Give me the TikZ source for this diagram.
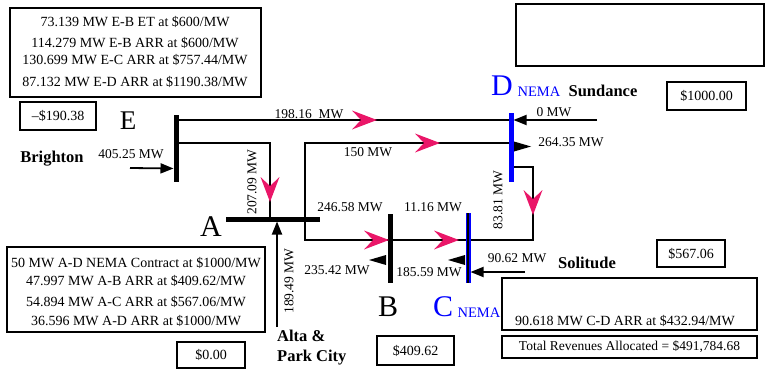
\documentclass[tikz,border=0pt]{standalone}
\usepackage{fontspec}
\setmainfont{Liberation Serif}
\usetikzlibrary{arrows.meta}
\definecolor{flowpink}{RGB}{234,22,104}
\definecolor{nemablue}{RGB}{0,0,255}

\begin{document}
\begin{tikzpicture}[
    x=1pt, y=-1pt,
    every node/.style={inner sep=0pt, align=center},
    mw/.style={font=\fontsize{13.5}{15}\selectfont},
    boxtext/.style={font=\fontsize{14}{16}\selectfont},
    place/.style={font=\fontsize{16.5}{18}\selectfont\bfseries},
    busname/.style={font=\fontsize{30}{30}\selectfont},
    nema/.style={font=\fontsize{14.5}{14}\selectfont, text=nemablue},
    infobox/.style={draw, line width=1.8pt},
    line/.style={line width=1.8pt},
    bus/.style={line width=5pt},
    inflow/.style={line, -{Triangle[length=13pt,width=10pt]}},
    flowhead/.pic={\fill[flowpink] (0,0) -- (-25,-9.5) -- (-16,0) -- (-25,9.5) -- cycle;},
    loadhead/.pic={\fill (0,0) -- (-17,-5) -- (-17,5) -- cycle;}
]

\useasboundingbox (0,0) rectangle (765,369);

% boxes
\node[infobox, minimum width=251, minimum height=89] (ebox) at (135.5,52.5) {};
\node[boxtext] (e1) at (135,22) {73.139 MW E-B ET at \$600/MW};
\node[boxtext] (e2) at (135,43) {114.279 MW E-B ARR at \$600/MW};
\node[boxtext] (e3) at (135,60) {130.699 MW E-C ARR at \$757.44/MW};
\node[boxtext] (e4) at (135,82) {87.132 MW E-D ARR at \$1190.38/MW};

\node[infobox, minimum width=258, minimum height=85] (abox) at (136,289.5) {};
\node[boxtext] (a1) at (136,263) {50 MW A-D NEMA Contract at \$1000/MW};
\node[boxtext] (a2) at (136,281) {47.997 MW A-B ARR at \$409.62/MW};
\node[boxtext] (a3) at (136,302) {54.894 MW A-C ARR at \$567.06/MW};
\node[boxtext] (a4) at (136,321) {36.596 MW A-D ARR at \$1000/MW};

\node[infobox, minimum width=248, minimum height=62] (dbox) at (640,35) {};
\node[infobox, minimum width=255, minimum height=52] (cbox) at (629.5,304) {};
\node[boxtext] (c1) at (625,321) {90.618 MW C-D ARR at \$432.94/MW};
\node[infobox, minimum width=255, minimum height=22, font=\fontsize{13.5}{15}\selectfont] (total) at (629.5,347) {Total Revenues Allocated = \$491,784.68};

\node[infobox, boxtext, minimum width=76, minimum height=28] (priceE) at (58,116) {--\$190.38};
\node[infobox, boxtext, minimum width=68, minimum height=26] (priceA) at (211,355) {\$0.00};
\node[infobox, boxtext, minimum width=77, minimum height=29] (priceB) at (415.5,350.5) {\$409.62};
\node[infobox, boxtext, minimum width=68, minimum height=27] (priceC) at (691,253.5) {\$567.06};
\node[infobox, boxtext, minimum width=79, minimum height=28] (priceD) at (706.5,96) {\$1000.00};

% buses
\coordinate (Etop) at (176,115);
\coordinate (Ebot) at (176,182);
\coordinate (Aw) at (226,219);
\coordinate (Ae) at (320,219);
\coordinate (Btop) at (390,214);
\coordinate (Bbot) at (390,283);
\coordinate (Ctop) at (468,213);
\coordinate (Cbot) at (468,283);
\coordinate (Dtop) at (511,113);
\coordinate (Dbot) at (511,182);

% line points
\coordinate (E1) at (176,120);
\coordinate (D1) at (511,120);
\coordinate (E2) at (176,143);
\coordinate (A1) at (270,219);
\coordinate (D2) at (511,143);
\coordinate (AD) at (305,143);
\coordinate (AB) at (305,240);
\coordinate (CD) at (533,240);
\coordinate (DC) at (533,167);
\coordinate (D3) at (511,167);

\draw[line] (E1) -- (D1);
\draw[line] (E2) -| (A1);
\draw[line] (D2) -- (AD) -- (AB) -- (CD) -- (DC) -- (D3);

\draw[bus] (Etop) -- (Ebot);
\draw[bus] (Aw) -- (Ae);
\draw[bus] (Btop) -- (Bbot);
\draw[bus, nemablue] (Ctop) -- (Cbot);
\draw[line width=1.2pt] (Ctop) -- (Cbot);
\draw[bus, nemablue] (Dtop) -- (Dbot);

% injections and loads
\coordinate (brighton) at (130,168);
\coordinate (Ein) at (173.5,168.5);
\coordinate (alta) at (277,327);
\coordinate (Ain) at (277,221.5);
\coordinate (sundance) at (597,120);
\coordinate (Din) at (513.5,120);
\coordinate (solitude) at (525,272);
\coordinate (Cin) at (470.5,272);

\draw[inflow] (brighton) -- (Ein);
\draw[inflow] (alta) -- (Ain);
\draw[inflow] (sundance) -- (Din);
\draw[inflow] (solitude) -- (Cin);

\pic at (531,146.5) {loadhead};
\pic[rotate=180] at (369,260) {loadhead};
\pic[rotate=180] at (448,260) {loadhead};

% flow arrows
\pic at (377,120) {flowhead};
\pic[rotate=-90] at (270,202) {flowhead};
\pic at (440,143) {flowhead};
\pic at (389,240) {flowhead};
\pic at (459,240) {flowhead};
\pic[rotate=-90] at (533,215) {flowhead};

% bus names
\node[busname, font=\fontsize{27}{27}\selectfont] (nE) at (128,121) {E};
\node[busname] (nA) at (211,227) {A};
\node[busname] (nB) at (388,307) {B};
\node[busname, text=nemablue] (nC) at (443,307) {C};
\node[nema] (nemaC) at (479,313) {NEMA};
\node[busname, text=nemablue] (nD) at (502,86) {D};
\node[nema] (nemaD) at (539,92) {NEMA};

\node[place] (pBrighton) at (52,159) {Brighton};
\node[place] (pSundance) at (603,91) {Sundance};
\node[place] (pSolitude) at (587,263) {Solitude};
\node[place, anchor=west] (pAlta) at (277,336) {Alta \&};
\node[place, anchor=west] (pPark) at (277,358) {Park City};

% flow labels
\node[mw] (f1) at (309,114) {198.16\ \ MW};
\node[mw, rotate=90] (f2) at (252,182) {207.09 MW};
\node[mw] (f3) at (131,154) {405.25 MW};
\node[mw] (f4) at (368,152) {150 MW};
\node[mw] (f5) at (350,207) {246.58 MW};
\node[mw] (f6) at (433,207) {11.16 MW};
\node[mw] (f7) at (554,112) {0 MW};
\node[mw] (f8) at (571,142) {264.35 MW};
\node[mw, rotate=90] (f9) at (498,200) {83.81 MW};
\node[mw] (f10) at (517,258) {90.62 MW};
\node[mw] (f11) at (337,270) {235.42 MW};
\node[mw] (f12) at (429,272) {185.59 MW};
\node[mw, rotate=90] (f13) at (289,281) {189.49 MW};

\end{tikzpicture}
\end{document}
